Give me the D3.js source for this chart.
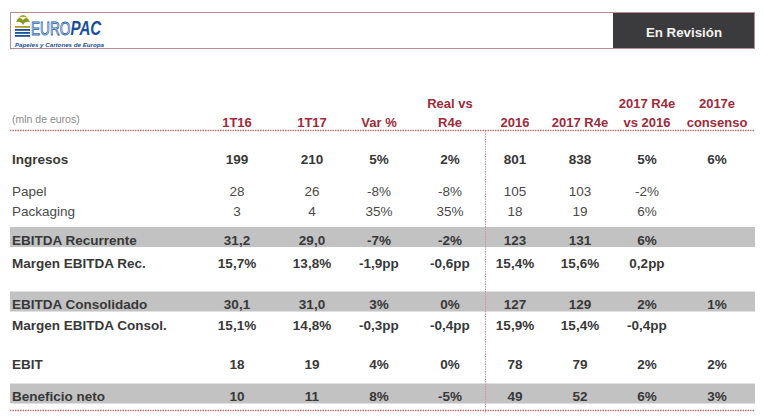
<!DOCTYPE html>
<html><head><meta charset="utf-8">
<script src="https://cdn.jsdelivr.net/npm/d3@7"></script>
<style>
html,body{margin:0;padding:0;background:#fff;}
svg{display:block;font-family:"Liberation Sans",Arial,sans-serif;}
</style></head>
<body>
<svg id="chart" width="764" height="419"></svg>
<script>
// ---------- DATA ----------
const unitsLabel = "(mln de euros)";
const statusLabel = "En Revisión";
const columnKeys = ["1T16","1T17","Var","RealVsR4e","2016","2017R4e","2017vs2016","Consenso"];
const headerLine1 = ["", "", "", "Real vs", "", "", "2017 R4e", "2017e"];
const headerLine2 = ["1T16", "1T17", "Var %", "R4e", "2016", "2017 R4e", "vs 2016", "consenso"];
const rowLabels = ["Ingresos","Papel","Packaging","EBITDA Recurrente","Margen EBITDA Rec.",
                   "EBITDA Consolidado","Margen EBITDA Consol.","EBIT","Beneficio neto"];
const rowIngresos      = ["199","210","5%","2%","801","838","5%","6%"];
const rowPapel         = ["28","26","-8%","-8%","105","103","-2%",""];
const rowPackaging     = ["3","4","35%","35%","18","19","6%",""];
const rowEbitdaRec     = ["31,2","29,0","-7%","-2%","123","131","6%",""];
const rowMargenRec     = ["15,7%","13,8%","-1,9pp","-0,6pp","15,4%","15,6%","0,2pp",""];
const rowEbitdaCons    = ["30,1","31,0","3%","0%","127","129","2%","1%"];
const rowMargenCons    = ["15,1%","14,8%","-0,3pp","-0,4pp","15,9%","15,4%","-0,4pp",""];
const rowEbit          = ["18","19","4%","0%","78","79","2%","2%"];
const rowBeneficio     = ["10","11","8%","-5%","49","52","6%","3%"];
const rowValues = [rowIngresos,rowPapel,rowPackaging,rowEbitdaRec,rowMargenRec,
                   rowEbitdaCons,rowMargenCons,rowEbit,rowBeneficio];

// ---------- LAYOUT / STYLE ----------
const colX = [237,312,379,450,515,580,647,717];
const rowBaseline = [164,196,216,244.5,268,309,330,369,401];
const rowBold = [true,false,false,true,true,true,true,true,true];
const rowBand = [false,false,false,true,false,true,false,false,true];
const rowFont = [13.5,13.5,13.5,13.5,13.5,13.5,13.5,13.5,13.5];
const left = 10, right = 755;

const x = d3.scaleOrdinal().domain(columnKeys).range(colX);
const y = d3.scaleOrdinal().domain(rowLabels).range(rowBaseline);

const svg = d3.select("#chart");

// ---------- HEADER BOX ----------
svg.append("rect").attr("x",10.5).attr("y",12.5).attr("width",744).attr("height",36)
  .attr("fill","#fff").attr("stroke","#b98a8f").attr("stroke-width",1);
svg.append("rect").attr("x",613).attr("y",13).attr("width",141).attr("height",35)
  .attr("fill","#3b3b3d");
svg.append("text").attr("x",684).attr("y",37).attr("text-anchor","middle")
  .attr("fill","#f2f2f2").attr("font-weight","bold").attr("font-size",13.3).text(statusLabel);

// logo
const logo = svg.append("g");
logo.append("path").attr("d","M16,22 Q19,15 23,20 Q27,15 30,22 Q25,21 23,25 Q21,21 16,22 Z").attr("fill","#8a9a20");
logo.append("path").attr("d","M18,18 Q23,12 28,18 Q23,16 18,18 Z").attr("fill","#a8a820");
[26,29,32,35].forEach((yy,i)=>{
  logo.append("rect").attr("x",15).attr("y",yy).attr("width",15).attr("height",1.8)
   .attr("fill", i<1 ? "#b0a020" : "#1a4f9c");
});
const brand = logo.append("text").attr("transform","translate(31,35) scale(0.72,1)");
brand.append("tspan").attr("font-size",19).attr("fill","#fff")
  .attr("stroke","#2a5fae").attr("stroke-width",0.9).text("EURO");
brand.append("tspan").attr("font-size",21).attr("font-weight","bold")
  .attr("font-style","italic").attr("fill","#1a4f9c").text("PAC");
logo.append("text").attr("x",15).attr("y",46.5).attr("font-size",5.6).attr("font-weight","bold")
  .attr("font-style","italic").attr("fill","#1a4f9c").attr("textLength",89)
  .attr("lengthAdjust","spacingAndGlyphs").text("Papeles y Cartones de Europa");

// ---------- BANDS ----------
svg.append("g").selectAll("rect").data(rowLabels.filter((d,i)=>rowBand[i])).join("rect")
  .attr("x",left).attr("y",d=>y(d)-17.5).attr("width",right-left).attr("height",20)
  .attr("fill","#c2c2c2");

// ---------- RULES ----------
svg.append("line").attr("x1",left).attr("x2",right).attr("y1",130.5).attr("y2",130.5)
  .attr("stroke","#c96f78").attr("stroke-width",1.4).attr("stroke-dasharray","1.5,1");
svg.append("line").attr("x1",left).attr("x2",right).attr("y1",410.5).attr("y2",410.5)
  .attr("stroke","#c96f78").attr("stroke-width",1.4).attr("stroke-dasharray","1.5,1");
svg.append("line").attr("x1",485.5).attr("x2",485.5).attr("y1",131).attr("y2",413)
  .attr("stroke","#d58f96").attr("stroke-width",1).attr("stroke-dasharray","1.5,1");

// ---------- COLUMN HEADERS ----------
const hdr = svg.append("g").attr("fill","#9e2a3a").attr("font-weight","bold")
  .attr("font-size",13).attr("text-anchor","middle");
hdr.selectAll("text.h1").data(columnKeys).join("text").attr("class","h1")
  .attr("x",d=>x(d)).attr("y",107.5).text((d,i)=>headerLine1[i]);
hdr.selectAll("text.h2").data(columnKeys).join("text").attr("class","h2")
  .attr("x",d=>x(d)).attr("y",126.5).text((d,i)=>headerLine2[i]);
svg.append("text").attr("x",12).attr("y",123).attr("font-size",10.5).attr("fill","#8a8a8a")
  .text(unitsLabel);

// ---------- ROWS ----------
const rows = svg.append("g").selectAll("g").data(rowLabels).join("g")
  .attr("fill", (d,i)=> rowBold[i] ? "#383838" : "#4a4a4a")
  .attr("font-weight",(d,i)=> rowBold[i] ? "bold" : "normal")
  .attr("font-size",(d,i)=>rowFont[i]);
rows.append("text").attr("x",12).attr("y",d=>y(d)).text(d=>d);
rows.each(function(label,i){
  d3.select(this).selectAll("text.v").data(rowValues[i]).join("text").attr("class","v")
    .attr("x",(v,j)=>x(columnKeys[j])).attr("y",y(label))
    .attr("text-anchor","middle").text(v=>v);
});
</script>
</body></html>
